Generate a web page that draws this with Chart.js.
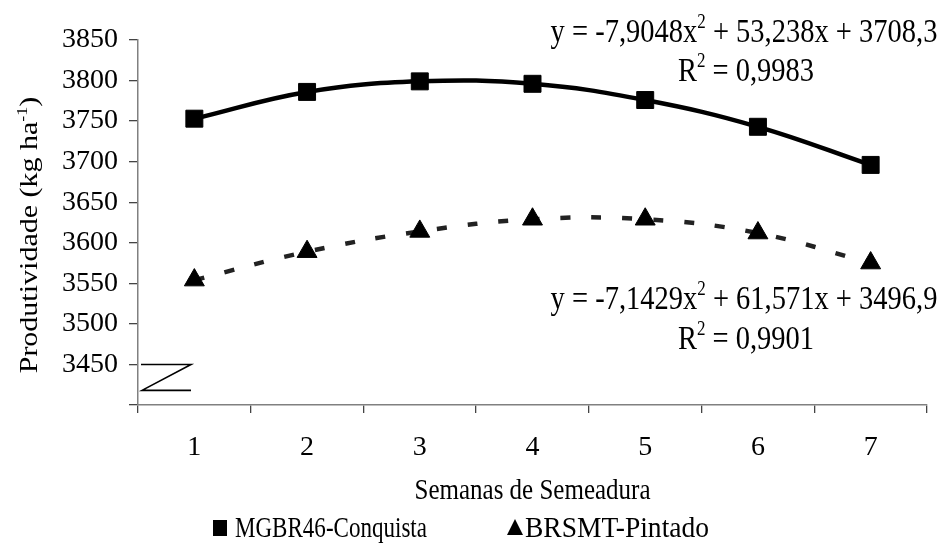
<!DOCTYPE html>
<html>
<head>
<meta charset="utf-8">
<script src="https://cdn.jsdelivr.net/npm/chart.js@4.4.0/dist/chart.umd.min.js"></script>
<style>
  html, body { margin: 0; padding: 0; background: #fff; }
</style>
</head>
<body>
<canvas id="chart" width="942" height="546"></canvas>
<script>
// dados
const semanas = ['1', '2', '3', '4', '5', '6', '7'];
const conquista = [3753, 3786, 3799, 3796, 3776, 3743, 3696];
const pintado = [3554, 3589, 3614, 3629, 3629, 3612, 3575];
const yMin = 3400, yMax = 3850, yStep = 50;
const nomes = ['MGBR46-Conquista', 'BRSMT-Pintado'];
const tituloX = 'Semanas de Semeadura';

// texto das equacoes: [texto, sobrescrito?]
const eqConquista = [['y = -7,9048x'], ['2', true], [' + 53,238x + 3708,3']];
const r2Conquista = [['R'], ['2', true], [' = 0,9983']];
const eqPintado = [['y = -7,1429x'], ['2', true], [' + 61,571x + 3496,9']];
const r2Pintado = [['R'], ['2', true], [' = 0,9901']];
const tituloY = [['Produtividade (kg ha'], ['-1', true], [')']];

const serif = "'Liberation Serif', 'Times New Roman', serif";
const tickFs = 28;
const stretch = 1.2; // o original esta esticado na vertical

function drawRich(ctx, parts, size, stretchX, stretchY) {
  const sup = Math.round(size * 0.6);
  let w = 0;
  parts.forEach(p => {
    ctx.font = (p[1] ? sup : size) + 'px ' + serif;
    w += ctx.measureText(p[0]).width;
  });
  ctx.scale(stretchX, stretchY);
  let x = -w / 2;
  ctx.textAlign = 'left';
  ctx.textBaseline = 'alphabetic';
  parts.forEach(p => {
    ctx.font = (p[1] ? sup : size) + 'px ' + serif;
    ctx.fillText(p[0], x, p[1] ? -size * 0.4 : 0);
    x += ctx.measureText(p[0]).width;
  });
}

function texto(ctx, parts, size, cx, base, rot) {
  ctx.save();
  ctx.translate(cx, base);
  if (rot) {
    ctx.rotate(-Math.PI / 2);
    drawRich(ctx, parts, size, stretch, 1);
  } else {
    drawRich(ctx, parts, size, 1, stretch);
  }
  ctx.restore();
}

// texto da legenda ajustado a largura vista no original
function textoLargura(ctx, str, size, left, base, largura) {
  ctx.save();
  ctx.font = size + 'px ' + serif;
  const w = ctx.measureText(str).width;
  ctx.translate(left, base);
  ctx.scale(largura / w, stretch);
  ctx.textAlign = 'left';
  ctx.textBaseline = 'alphabetic';
  ctx.fillText(str, 0, 0);
  ctx.restore();
}

const extras = {
  id: 'extras',
  afterDraw(chart) {
    const ctx = chart.ctx;
    const y = chart.scales.y;
    const area = chart.chartArea;
    ctx.save();
    ctx.fillStyle = '#000';

    // equacoes
    texto(ctx, eqConquista, 28.5, 744, 42);
    texto(ctx, r2Conquista, 28.5, 746, 81);
    texto(ctx, eqPintado, 28.5, 744, 309);
    texto(ctx, r2Pintado, 28.5, 746, 349);

    // titulos dos eixos
    texto(ctx, tituloY, 25, 37, 235, true);
    texto(ctx, [[tituloX]], 25, (area.left + area.right) / 2, 499);

    // quebra do eixo
    const y1 = y.getPixelForValue(3450), y2 = y.getPixelForValue(3418);
    ctx.strokeStyle = '#000';
    ctx.lineWidth = 1.6;
    ctx.beginPath();
    ctx.moveTo(area.left + 3, y1);
    ctx.lineTo(area.left + 53, y1);
    ctx.lineTo(area.left + 4, y2);
    ctx.lineTo(area.left + 53, y2);
    ctx.stroke();

    // legenda
    const ly = 528;
    ctx.fillRect(213, ly - 8, 14, 16);
    ctx.beginPath();
    ctx.moveTo(515, ly - 9);
    ctx.lineTo(523, ly + 7);
    ctx.lineTo(507, ly + 7);
    ctx.closePath();
    ctx.fill();
    textoLargura(ctx, nomes[0], 25, 235, ly + 9, 192);
    textoLargura(ctx, nomes[1], 25, 525, ly + 9, 184);
    ctx.restore();
  }
};

new Chart(document.getElementById('chart'), {
  type: 'line',
  data: {
    labels: semanas,
    datasets: [
      {
        label: nomes[0],
        data: conquista,
        borderColor: '#000',
        borderWidth: 4.5,
        tension: 0.4,
        pointStyle: 'rect',
        pointRadius: 12,
        pointBackgroundColor: '#000',
        pointBorderColor: '#000',
        pointBorderWidth: 1
      },
      {
        label: nomes[1],
        data: pintado,
        borderColor: '#222',
        borderWidth: 4.5,
        borderDash: [10, 21],
        tension: 0.4,
        pointStyle: 'triangle',
        pointRadius: 11.5,
        pointBackgroundColor: '#000',
        pointBorderColor: '#000',
        pointBorderWidth: 1
      }
    ]
  },
  options: {
    responsive: false,
    animation: false,
    devicePixelRatio: 1,
    layout: { padding: { top: 40, right: 15, bottom: 0, left: 0 } },
    plugins: {
      legend: { display: false },
      tooltip: { enabled: false }
    },
    scales: {
      x: {
        type: 'category',
        offset: true,
        afterFit(scale) { scale.height = 141; },
        grid: { offset: true, drawOnChartArea: false, tickLength: 8, color: '#444', lineWidth: 1.3 },
        border: { color: '#808080', width: 1.5 },
        ticks: { color: '#000', padding: 18, font: { family: serif, size: tickFs } }
      },
      y: {
        min: yMin,
        max: yMax,
        afterFit(scale) { scale.width = 138; },
        grid: { drawOnChartArea: false, tickLength: 9, color: '#444', lineWidth: 1.3 },
        border: { color: '#808080', width: 1.5 },
        ticks: {
          stepSize: yStep,
          color: '#000',
          padding: 11,
          font: { family: serif, size: tickFs },
          callback: v => v === yMin ? '' : String(v)
        }
      }
    }
  },
  plugins: [extras]
});
</script>
</body>
</html>
